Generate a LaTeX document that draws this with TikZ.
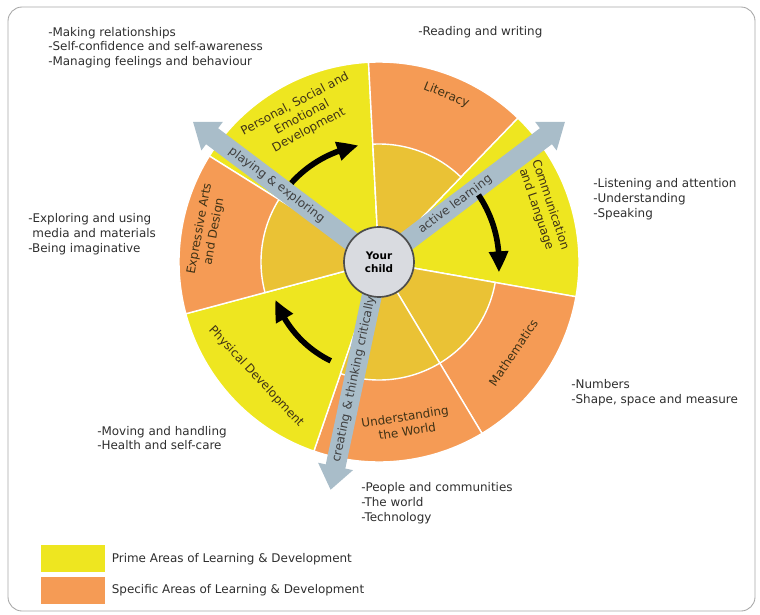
\documentclass[tikz,border=0pt]{standalone}
\usepackage{fontspec}
\setmainfont{DejaVu Sans}
\usepackage[HTML]{xcolor}
\usetikzlibrary{positioning, arrows.meta, bending}

\definecolor{prime}{HTML}{EEE620}
\definecolor{specific}{HTML}{F59B55}
\definecolor{core}{HTML}{EAC235}
\definecolor{flowgray}{HTML}{A9BDC9}
\definecolor{childgray}{HTML}{D9DBE0}
\definecolor{areabrown}{HTML}{3F3216}
\definecolor{listgray}{HTML}{2E2E2E}

\newcommand{\listfont}{\fontsize{8.5}{10.5}\selectfont}

\begin{document}
\begin{tikzpicture}[
  sector/.style={draw=white, line width=1pt},
  area/.style={text=areabrown, font=\listfont, align=center, inner sep=0pt},
  goals/.style={text=listgray, font=\listfont, align=left, anchor=west, inner sep=0pt},
  flow/.style={flowgray, line width=0.5cm, -{Triangle[width=0.85cm, length=0.6cm]}},
  flowlabel/.style={text=black!75, font=\listfont, sloped, inner sep=0pt},
  turn/.style={black, line width=4pt, -{Triangle[width=13pt, length=15pt, bend]}},
  swatch/.style={minimum width=1.6cm, minimum height=0.68cm, inner sep=0pt}
]
\useasboundingbox (-9.475,-8.8) rectangle (9.525,6.55);

% Frame
\draw[black!35, line width=0.6pt, rounded corners=10pt] (-9.275,6.375) rectangle (9.4,-8.725);

% Sectors of the wheel
\filldraw[sector, fill=prime] (0,0) -- (93:5) arc[start angle=93, end angle=148, radius=5] -- cycle;
\filldraw[sector, fill=specific] (0,0) -- (46:5) arc[start angle=46, end angle=93, radius=5] -- cycle;
\filldraw[sector, fill=prime] (0,0) -- (-10:5) arc[start angle=-10, end angle=46, radius=5] -- cycle;
\filldraw[sector, fill=specific] (0,0) -- (-59:5) arc[start angle=-59, end angle=-10, radius=5] -- cycle;
\filldraw[sector, fill=specific] (0,0) -- (-109:5) arc[start angle=-109, end angle=-59, radius=5] -- cycle;
\filldraw[sector, fill=prime] (0,0) -- (195:5) arc[start angle=195, end angle=251, radius=5] -- cycle;
\filldraw[sector, fill=specific] (0,0) -- (148:5) arc[start angle=148, end angle=195, radius=5] -- cycle;

% Inner ring of the specific areas
\filldraw[sector, fill=core] (0,0) -- (46:2.95) arc[start angle=46, end angle=93, radius=2.95] -- cycle;
\filldraw[sector, fill=core] (0,0) -- (-59:2.95) arc[start angle=-59, end angle=-10, radius=2.95] -- cycle;
\filldraw[sector, fill=core] (0,0) -- (-109:2.95) arc[start angle=-109, end angle=-59, radius=2.95] -- cycle;
\filldraw[sector, fill=core] (0,0) -- (148:2.95) arc[start angle=148, end angle=195, radius=2.95] -- cycle;

% Ways of learning
\coordinate (ctr) at (0,0);
\coordinate (playtip) at (143:5.825);
\coordinate (activetip) at (37:5.825);
\coordinate (createtip) at (258:5.825);
\draw[flow] (ctr) -- node[flowlabel, pos=0.55] (playlbl) {playing \& exploring} (playtip);
\draw[flow] (ctr) -- node[flowlabel, pos=0.41] (activelbl) {active learning} (activetip);
\draw[flow] (ctr) -- node[flowlabel, pos=0.515] (createlbl) {creating \& thinking critically} (createtip);

% Centre
\node[circle, draw=black!70, line width=1.2pt, fill=childgray, minimum size=1.75cm,
  font=\bfseries\fontsize{7.4}{9.2}\selectfont, align=center, inner sep=0pt] (child) at (ctr) {Your\\child};

% Turning arrows in the prime areas
\draw[turn] (138:2.95) arc[start angle=138, end angle=100, radius=2.95];
\draw[turn] (34:3.0) arc[start angle=34, end angle=-5, radius=3.0];
\draw[turn] (244:2.75) arc[start angle=244, end angle=200, radius=2.75];

% Area names
\node[area, rotate=28] (psed) at (118:4.1) {Personal, Social and\\Emotional\\Development};
\node[area, rotate=-22] (lit) at (68:4.5) {Literacy};
\node[area, rotate=-71.5] (comm) at (18.5:4.33) {Communication\\and Language};
\node[area, rotate=56] (maths) at (-34:4.05) {Mathematics};
\node[area, rotate=9] (world) at (-80.5:4.1) {Understanding\\the World};
\node[area, rotate=-47] (phys) at (223:4.2) {Physical Development};
\node[area, rotate=79.5] (arts) at (169.5:4.375) {Expressive Arts\\and Design};

% Aspects of each area
\node[goals] (psedlist) at (-8.275,5.36) {-Making relationships\\-Self-confidence and self-awareness\\-Managing feelings and behaviour};
\node[goals] (litlist) at (0.975,5.75) {-Reading and writing};
\node[goals] (commlist) at (5.35,1.575) {-Listening and attention\\-Understanding\\-Speaking};
\node[goals] (artslist) at (-8.775,0.7) {-Exploring and using\\\hspace*{3pt}media and materials\\-Being imaginative};
\node[goals] (mathslist) at (4.8,-3.2625) {-Numbers\\-Shape, space and measure};
\node[goals] (physlist) at (-7.05,-4.4) {-Moving and handling\\-Health and self-care};
\node[goals] (worldlist) at (-0.45,-6.025) {-People and communities\\-The world\\-Technology};

% Key
\node[swatch, fill=prime, anchor=north west] (primekey) at (-8.45,-7.075) {};
\node[swatch, fill=specific, below=0.1cm of primekey] (specifickey) {};
\node[goals, right=0.15cm of primekey] (primetext) {Prime Areas of Learning \& Development};
\node[goals, right=0.15cm of specifickey] (specifictext) {Specific Areas of Learning \& Development};
\end{tikzpicture}
\end{document}
